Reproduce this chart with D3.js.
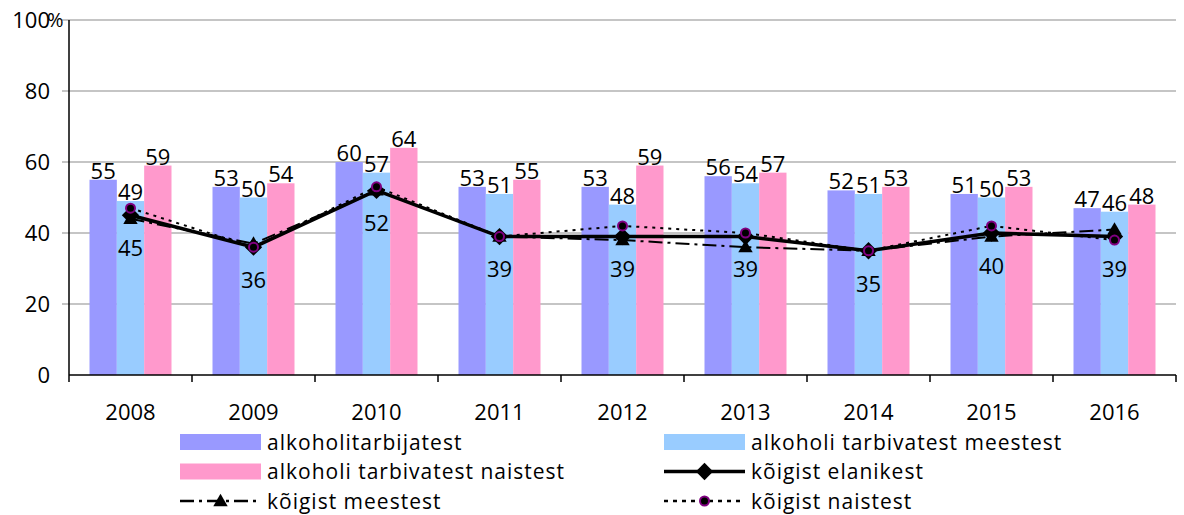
<!DOCTYPE html>
<html>
<head>
<meta charset="utf-8">
<script src="https://cdn.jsdelivr.net/npm/d3@7"></script>
<style>
  body { margin: 0; background: #fff; }
  text { font-family: "Open Sans", "DejaVu Sans", sans-serif; fill: #000; }
</style>
</head>
<body>
<div id="chart"></div>
<script>
// data
var years = ["2008", "2009", "2010", "2011", "2012", "2013", "2014", "2015", "2016"];
var consumersAll = [55, 53, 60, 53, 53, 56, 52, 51, 47];
var consumersMen = [49, 50, 57, 51, 48, 54, 51, 50, 46];
var consumersWomen = [59, 54, 64, 55, 59, 57, 53, 53, 48];
var everyone = [45, 36, 52, 39, 39, 39, 35, 40, 39];
var everyMan = [44, 37, 52, 39, 38, 36, 35, 39, 41];
var everyWoman = [47, 36, 53, 39, 42, 40, 35, 42, 38];
var yTicks = [0, 20, 40, 60, 80, 100];

var barSeries = [
    { name: "alkoholitarbijatest", values: consumersAll, color: "#9999ff" },
    { name: "alkoholi tarbivatest meestest", values: consumersMen, color: "#99ccff" },
    { name: "alkoholi tarbivatest naistest", values: consumersWomen, color: "#ff99cc" }
];

// set the dimensions and margins of the graph
var margin = { top: 20, right: 8, bottom: 140, left: 69 },
    width = 1184 - margin.left - margin.right,
    height = 515 - margin.top - margin.bottom;

var svg = d3.select("#chart")
    .append("svg")
    .attr("width", 1184)
    .attr("height", 515)
    .append("g")
    .attr("transform", "translate(" + margin.left + "," + margin.top + ")");

var x0 = d3.scaleBand().domain(years).range([0, width]);
var x1 = d3.scaleBand().domain(d3.range(barSeries.length))
    .range([x0.bandwidth() / 6, x0.bandwidth() * 5 / 6]);
var y = d3.scaleLinear().domain([0, 100]).range([height, 0]);

// gridlines
svg.append("g")
    .selectAll("line")
    .data(yTicks.filter(function(d) { return d > 0; }))
    .enter()
    .append("line")
    .attr("x1", -7)
    .attr("x2", width)
    .attr("y1", function(d) { return y(d); })
    .attr("y2", function(d) { return y(d); })
    .attr("stroke", "#8c8c8c")
    .attr("stroke-width", 1.2);

// y tick labels
svg.append("g")
    .selectAll("text")
    .data(yTicks)
    .enter()
    .append("text")
    .attr("x", -19)
    .attr("y", function(d) { return y(d); })
    .attr("dy", "0.36em")
    .attr("text-anchor", "end")
    .style("font-size", "22px")
    .text(function(d) { return d; });

svg.append("text")
    .attr("x", -22)
    .attr("y", y(100))
    .attr("dy", "0.36em")
    .style("font-size", "20px")
    .text("%");

// bars
svg.append("g")
    .selectAll("g")
    .data(years)
    .enter()
    .append("g")
    .attr("transform", function(d) { return "translate(" + x0(d) + ",0)"; })
    .each(function(year, i) {
        var g = d3.select(this);
        barSeries.forEach(function(s, k) {
            g.append("rect")
                .attr("x", x1(k))
                .attr("y", y(s.values[i]))
                .attr("width", x1.bandwidth())
                .attr("height", height - y(s.values[i]))
                .attr("fill", s.color);
        });
    });

// bar value labels
svg.append("g")
    .selectAll("g")
    .data(years)
    .enter()
    .append("g")
    .attr("transform", function(d) { return "translate(" + x0(d) + ",0)"; })
    .each(function(year, i) {
        var g = d3.select(this);
        barSeries.forEach(function(s, k) {
            g.append("text")
                .attr("x", x1(k) + x1.bandwidth() / 2)
                .attr("y", y(s.values[i]) - 1)
                .attr("text-anchor", "middle")
                .style("font-size", "22px")
                .text(s.values[i]);
        });
    });

// axes
svg.append("line")
    .attr("x1", 0).attr("x2", 0)
    .attr("y1", 0).attr("y2", height)
    .attr("stroke", "#000").attr("stroke-width", 1.5);
svg.append("line")
    .attr("x1", 0).attr("x2", width)
    .attr("y1", height).attr("y2", height)
    .attr("stroke", "#000").attr("stroke-width", 1.5);
svg.append("g")
    .selectAll("line")
    .data(d3.range(years.length + 1))
    .enter()
    .append("line")
    .attr("x1", function(d) { return d * x0.bandwidth(); })
    .attr("x2", function(d) { return d * x0.bandwidth(); })
    .attr("y1", height)
    .attr("y2", height + 7)
    .attr("stroke", "#000").attr("stroke-width", 1.5);

svg.append("g")
    .selectAll("text")
    .data(years)
    .enter()
    .append("text")
    .attr("x", function(d) { return x0(d) + x0.bandwidth() / 2; })
    .attr("y", height + 45)
    .attr("text-anchor", "middle")
    .style("font-size", "22px")
    .text(function(d) { return d; });

// lines
var cx = function(d, i) { return x0(years[i]) + x0.bandwidth() / 2; };
var line = d3.line()
    .x(function(d, i) { return x0(years[i]) + x0.bandwidth() / 2; })
    .y(function(d) { return y(d); });

var diamond = d3.symbol().type(d3.symbolDiamond2).size(150);
var triangle = d3.symbol().type(d3.symbolTriangle).size(90);

function drawMen(g, data, px) {
    g.append("path")
        .datum(data)
        .attr("d", line)
        .attr("fill", "none")
        .attr("stroke", "#000")
        .attr("stroke-width", 2)
        .attr("stroke-dasharray", "14,5,3,5");
}
function drawWomen(g, data) {
    g.append("path")
        .datum(data)
        .attr("d", line)
        .attr("fill", "none")
        .attr("stroke", "#000")
        .attr("stroke-width", 2)
        .attr("stroke-dasharray", "3,5");
}

var lines = svg.append("g");
drawMen(lines, everyMan);
drawWomen(lines, everyWoman);
lines.append("path")
    .datum(everyone)
    .attr("d", line)
    .attr("fill", "none")
    .attr("stroke", "#000")
    .attr("stroke-width", 3.5);

lines.selectAll(".tri")
    .data(everyMan)
    .enter()
    .append("path")
    .attr("transform", function(d, i) { return "translate(" + cx(d, i) + "," + (y(d) + 1) + ")"; })
    .attr("d", triangle)
    .attr("fill", "#000");

lines.selectAll(".dia")
    .data(everyone)
    .enter()
    .append("path")
    .attr("transform", function(d, i) { return "translate(" + cx(d, i) + "," + y(d) + ") rotate(45)"; })
    .attr("d", d3.symbol().type(d3.symbolSquare).size(150))
    .attr("fill", "#000");

lines.selectAll(".dot")
    .data(everyWoman)
    .enter()
    .append("circle")
    .attr("cx", cx)
    .attr("cy", function(d) { return y(d); })
    .attr("r", 4.5)
    .attr("fill", "#000")
    .attr("stroke", "#800080")
    .attr("stroke-width", 2);

// labels of kõigist elanikest, below the points
svg.append("g")
    .selectAll("text")
    .data(everyone)
    .enter()
    .append("text")
    .attr("x", cx)
    .attr("y", function(d) { return y(d) + 33; })
    .attr("dy", "0.36em")
    .attr("text-anchor", "middle")
    .style("font-size", "22px")
    .text(function(d) { return d; });

// legend
var legendItems = [
    { name: barSeries[0].name, kind: "bar", color: barSeries[0].color },
    { name: barSeries[1].name, kind: "bar", color: barSeries[1].color },
    { name: barSeries[2].name, kind: "bar", color: barSeries[2].color },
    { name: "kõigist elanikest", kind: "total" },
    { name: "kõigist meestest", kind: "men" },
    { name: "kõigist naistest", kind: "women" }
];
var legend = d3.select("svg").append("g");
legendItems.forEach(function(item, i) {
    var col = i % 2, row = Math.floor(i / 2);
    var lx = col === 0 ? 180 : 664, ly = 442 + row * 29.5;
    var g = legend.append("g").attr("transform", "translate(" + lx + "," + ly + ")");
    if (item.kind === "bar") {
        g.append("rect").attr("x", 0).attr("y", -8).attr("width", 81).attr("height", 16)
            .attr("fill", item.color);
    } else if (item.kind === "total") {
        g.append("line").attr("x1", 0).attr("x2", 81).attr("y1", 0).attr("y2", 0)
            .attr("stroke", "#000").attr("stroke-width", 3.5);
        g.append("path").attr("transform", "translate(40.5,0) rotate(45)")
            .attr("d", d3.symbol().type(d3.symbolSquare).size(150)).attr("fill", "#000");
    } else if (item.kind === "men") {
        g.append("line").attr("x1", 0).attr("x2", 81).attr("y1", 0).attr("y2", 0)
            .attr("stroke", "#000").attr("stroke-width", 2.5)
            .attr("stroke-dasharray", "14,5,3,5");
        g.append("path").attr("transform", "translate(40.5,1)")
            .attr("d", triangle).attr("fill", "#000");
    } else {
        g.append("line").attr("x1", 0).attr("x2", 81).attr("y1", 0).attr("y2", 0)
            .attr("stroke", "#000").attr("stroke-width", 2.5)
            .attr("stroke-dasharray", "4,5");
        g.append("circle").attr("cx", 40.5).attr("cy", 0).attr("r", 4.5)
            .attr("fill", "#000").attr("stroke", "#800080").attr("stroke-width", 2);
    }
    g.append("text")
        .attr("x", 87)
        .attr("y", 0)
        .attr("dy", "0.36em")
        .style("font-size", "21px")
        .style("letter-spacing", "1px")
        .text(item.name);
});
</script>
</body>
</html>
